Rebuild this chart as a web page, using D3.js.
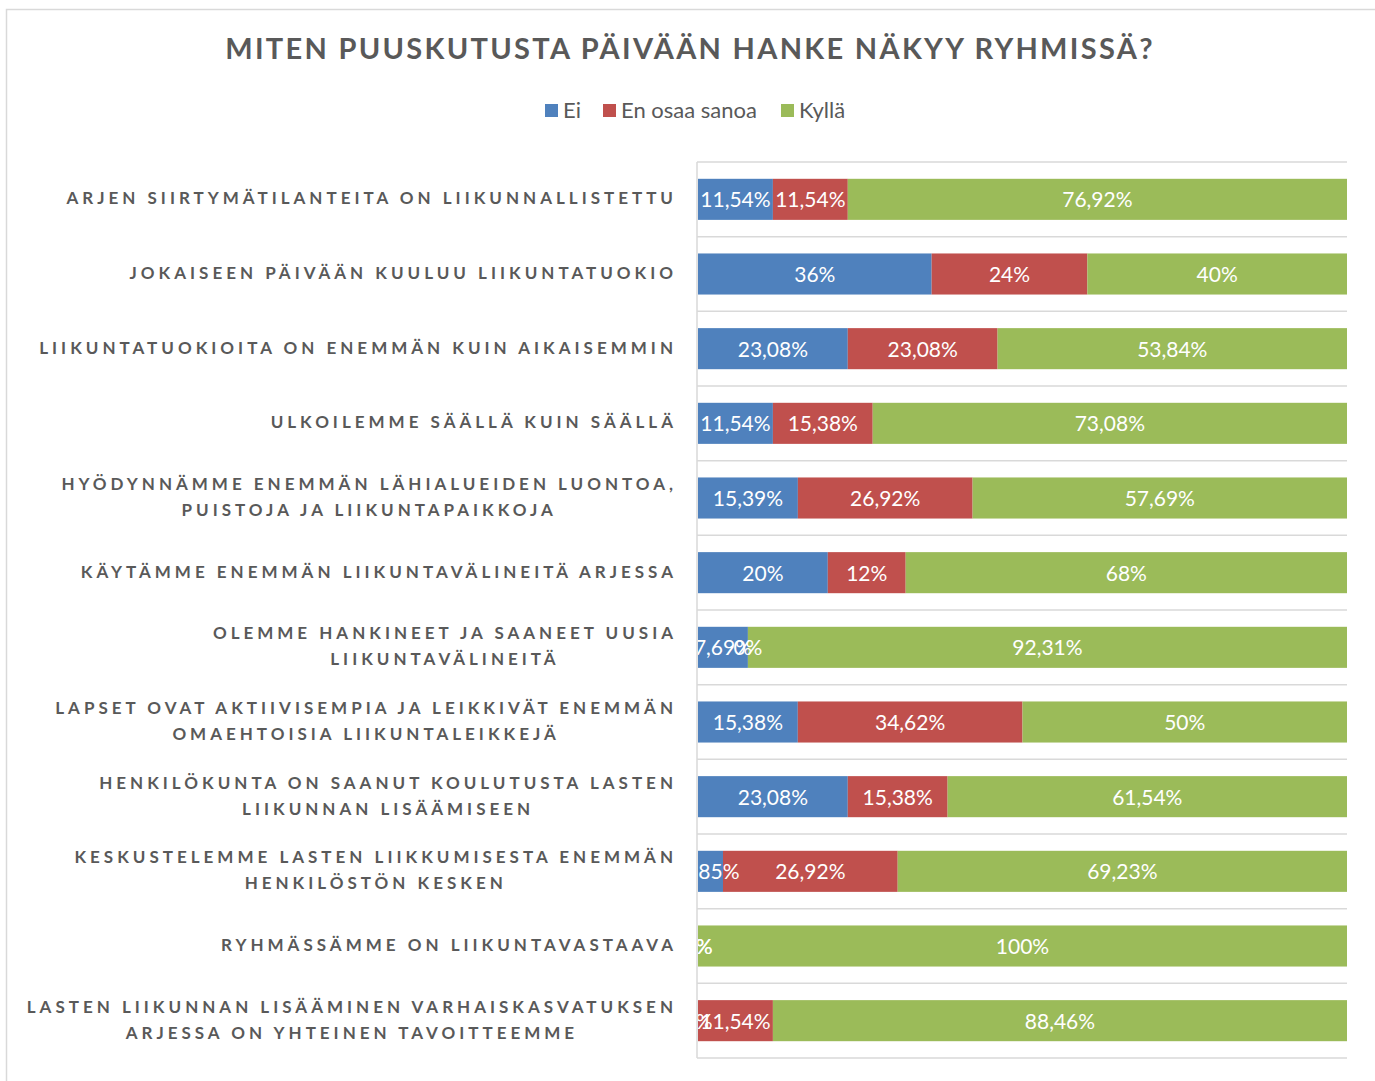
<!DOCTYPE html>
<html>
<head>
<meta charset="utf-8">
<script src="https://d3js.org/d3.v7.min.js"></script>
<style>
  body { margin: 0; background: #fff; }
  svg { display: block; }
</style>
</head>
<body>
<script>
const W = 1375, H = 1081

const title = "MITEN PUUSKUTUSTA PÄIVÄÄN HANKE NÄKYY RYHMISSÄ?"
const seriesNames = ["Ei", "En osaa sanoa", "Kyllä"]
const seriesColors = ["#4F81BD", "#C0504D", "#9BBB59"]

// each category may have two lines
const categories = [
  ["ARJEN SIIRTYMÄTILANTEITA ON LIIKUNNALLISTETTU"],
  ["JOKAISEEN PÄIVÄÄN KUULUU LIIKUNTATUOKIO"],
  ["LIIKUNTATUOKIOITA ON ENEMMÄN KUIN AIKAISEMMIN"],
  ["ULKOILEMME SÄÄLLÄ KUIN SÄÄLLÄ"],
  ["HYÖDYNNÄMME ENEMMÄN LÄHIALUEIDEN LUONTOA,", "PUISTOJA JA LIIKUNTAPAIKKOJA"],
  ["KÄYTÄMME ENEMMÄN LIIKUNTAVÄLINEITÄ ARJESSA"],
  ["OLEMME HANKINEET JA SAANEET UUSIA", "LIIKUNTAVÄLINEITÄ"],
  ["LAPSET OVAT AKTIIVISEMPIA JA LEIKKIVÄT ENEMMÄN", "OMAEHTOISIA LIIKUNTALEIKKEJÄ"],
  ["HENKILÖKUNTA ON SAANUT KOULUTUSTA LASTEN", "LIIKUNNAN LISÄÄMISEEN"],
  ["KESKUSTELEMME LASTEN LIIKKUMISESTA ENEMMÄN", "HENKILÖSTÖN KESKEN"],
  ["RYHMÄSSÄMME ON LIIKUNTAVASTAAVA"],
  ["LASTEN LIIKUNNAN LISÄÄMINEN VARHAISKASVATUKSEN", "ARJESSA ON YHTEINEN TAVOITTEEMME"]
]
const ei =          [11.54, 36, 23.08, 11.54, 15.39, 20, 7.69, 15.38, 23.08, 3.85, 0, 0]
const enOsaaSanoa = [11.54, 24, 23.08, 15.38, 26.92, 12, 0, 34.62, 15.38, 26.92, 0, 11.54]
const kylla =       [76.92, 40, 53.84, 73.08, 57.69, 68, 92.31, 50, 61.54, 69.23, 100, 88.46]

const rows = categories.map((c, i) => ({
  id: i, lines: c,
  "Ei": ei[i], "En osaa sanoa": enOsaaSanoa[i], "Kyllä": kylla[i]
}))

const fi = d3.formatLocale({decimal: ",", thousands: " ", grouping: [3], currency: ["", "€"]})
const fmtPct = v => (Number.isInteger(v) ? fi.format("d")(v) : fi.format(".2f")(v)) + "%"

const svg = d3.select("body").append("svg").attr("width", W).attr("height", H)

// chart frame
svg.append("rect")
  .attr("x", 6.5).attr("y", 9.5).attr("width", 1400).attr("height", 1200)
  .attr("fill", "#fff").attr("stroke", "#D9D9D9").attr("stroke-width", 1.5)

svg.append("text")
  .attr("x", 690).attr("y", 59)
  .attr("text-anchor", "middle")
  .attr("font-family", "Lato").attr("font-weight", "bold")
  .attr("font-size", 29).attr("letter-spacing", 2.3)
  .attr("fill", "#595959")
  .text(title)

// legend
const legendX = [545, 603, 781]
const legend = svg.append("g").selectAll("g").data(seriesNames).join("g")
  .attr("transform", (d, i) => `translate(${legendX[i]}, 104)`)
legend.append("rect").attr("width", 13).attr("height", 13).attr("fill", (d, i) => seriesColors[i])
legend.append("text").attr("x", 18).attr("y", 13.5)
  .attr("font-family", "Lato").attr("font-size", 22).attr("fill", "#595959")
  .text(d => d)

// scales
const x = d3.scaleLinear().domain([0, 100]).range([698, 1347])
const y = d3.scaleBand().domain(rows.map(d => d.id)).range([162, 1058])
  .paddingInner(0.45).paddingOuter(0.225)

// gridlines between categories
const gridY = rows.map(d => y(d.id) - y.step() * 0.225).concat([1058])
svg.append("g").selectAll("line").data(gridY).join("line")
  .attr("x1", 697).attr("x2", 1347)
  .attr("y1", d => d).attr("y2", d => d)
  .attr("stroke", "#D9D9D9").attr("stroke-width", 1.5)
svg.append("line")
  .attr("x1", 697).attr("x2", 697).attr("y1", 162).attr("y2", 1058)
  .attr("stroke", "#D9D9D9").attr("stroke-width", 1.5)

const stack = d3.stack().keys(seriesNames)(rows)

svg.append("g").selectAll("g").data(stack).join("g")
  .attr("fill", (d, i) => seriesColors[i])
  .selectAll("rect").data(d => d).join("rect")
  .attr("x", d => x(d[0]))
  .attr("width", d => x(d[1]) - x(d[0]))
  .attr("y", d => y(d.data.id))
  .attr("height", y.bandwidth())

// data labels, clipped to the plot area
svg.append("clipPath").attr("id", "plotclip")
  .append("rect").attr("x", 698).attr("y", 150).attr("width", 660).attr("height", 920)
const labels = svg.append("g").attr("clip-path", "url(#plotclip)")
stack.forEach(s => {
  labels.selectAll(null).data(s).join("text")
    .attr("x", d => (x(d[0]) + x(d[1])) / 2)
    .attr("y", d => y(d.data.id) + y.bandwidth() / 2 + 8)
    .attr("text-anchor", "middle")
    .attr("font-family", "Lato").attr("font-size", 21).attr("fill", "#fff")
    .text(d => fmtPct(+(d[1] - d[0]).toFixed(2)))
})

// category labels, block right-aligned, lines centred
const catG = svg.append("g")
rows.forEach(r => {
  const g = catG.append("g")
  const n = r.lines.length
  const cy = y(r.id) + y.bandwidth() / 2
  const texts = r.lines.map((line, j) => g.append("text")
    .attr("y", cy + 5 + (j - (n - 1) / 2) * 26)
    .attr("text-anchor", "middle")
    .attr("font-family", "Lato").attr("font-weight", "bold")
    .attr("font-size", 17).attr("letter-spacing", 4)
    .attr("fill", "#595959")
    .text(line))
  const maxW = d3.max(texts, t => t.node().getComputedTextLength())
  texts.forEach(t => t.attr("x", 677 - maxW / 2))
})
</script>
</body>
</html>
